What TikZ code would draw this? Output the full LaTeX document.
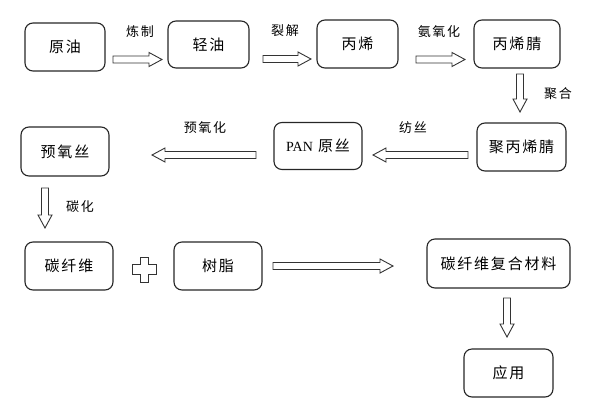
\documentclass[tikz,border=0pt]{standalone}
\usepackage{fontspec}
\newfontfamily\cjk[LetterSpace=12]{Noto Sans CJK SC}
\newfontfamily\latinserif{Liberation Serif}
\newcommand\blockarr[4]{% x, y, rotation, length
  \draw[arrline,shift={(#1,#2)},rotate=#3] (0,-3.5) -- ({#4-13},-3.5) -- ({#4-13},-7) -- (#4,0) -- ({#4-13},7) -- ({#4-13},3.5) -- (0,3.5) -- cycle;}
\begin{document}
\begin{tikzpicture}[x=1pt,y=-1pt,
  procbox/.style={draw=black!85,line width=1.1pt,rounded corners=8pt,inner sep=0pt,
    font=\cjk\fontsize{15}{15}\selectfont},
  steplabel/.style={inner sep=0pt,font=\cjk\fontsize{13}{13}\selectfont},
  arrline/.style={draw=black!80,line width=0.9pt,fill=white}]
\useasboundingbox (0,0) rectangle (594,402);
% boxes
\node[procbox,minimum width=80pt,minimum height=48pt] (yy) at (65,47) {原油};
\node[procbox,minimum width=81pt,minimum height=47pt] (qy) at (208.5,44.5) {轻油};
\node[procbox,minimum width=81pt,minimum height=48pt] (bx) at (357.5,44) {丙烯};
\node[procbox,minimum width=86pt,minimum height=48pt] (bxj) at (517,44) {丙烯腈};
\node[procbox,minimum width=89pt,minimum height=48pt] (jbxj) at (521.5,147) {聚丙烯腈};
\node[procbox,minimum width=88pt,minimum height=47pt] (pan) at (318,146) {{\latinserif\fontsize{14}{14}\selectfont PAN} 原丝};
\node[procbox,minimum width=88pt,minimum height=49pt] (yys) at (65,151.5) {预氧丝};
\node[procbox,minimum width=88pt,minimum height=48pt] (txw) at (69,266) {碳纤维};
\node[procbox,minimum width=88pt,minimum height=48pt] (sz) at (218,266) {树脂};
\node[procbox,minimum width=143pt,minimum height=49pt] (fh) at (498.5,263.5) {碳纤维复合材料};
\node[procbox,minimum width=89pt,minimum height=48pt] (yyong) at (508.5,373) {应用};
% arrows
\blockarr{113}{59.5}{0}{49}
\blockarr{263}{59}{0}{48}
\blockarr{416}{59.5}{0}{49}
\blockarr{520}{74}{-90}{38}
\blockarr{468}{155}{180}{95}
\blockarr{256}{155}{180}{104}
\blockarr{45}{188}{-90}{40}
\blockarr{273}{266}{0}{120}
\blockarr{507}{298}{-90}{39}
% plus sign
\draw[arrline] (140,257) -- (148,257) -- (148,264) -- (156,264) -- (156,274) -- (148,274) -- (148,282) -- (140,282) -- (140,274) -- (132,274) -- (132,264) -- (140,264) -- cycle;
% labels
\node[steplabel] (l1) at (140,32) {炼制};
\node[steplabel] (l2) at (285,31) {裂解};
\node[steplabel] (l3) at (439,32) {氨氧化};
\node[steplabel] (l4) at (558,94) {聚合};
\node[steplabel] (l5) at (413,128) {纺丝};
\node[steplabel] (l6) at (205,128) {预氧化};
\node[steplabel] (l7) at (80,207) {碳化};
\end{tikzpicture}
\end{document}
